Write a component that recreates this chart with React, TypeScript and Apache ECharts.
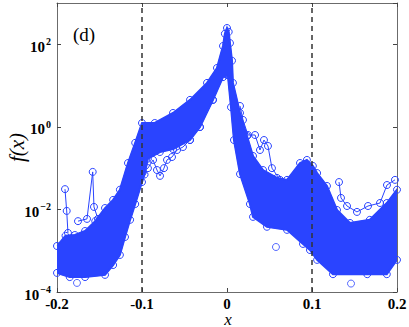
import React, { useEffect, useRef } from "react";
import * as echarts from "echarts";

// Dense band: upper boundary (x, f(x))
const upperX = [-0.2, -0.19, -0.179, -0.167, -0.155, -0.1435, -0.134, -0.126, -0.1165, -0.108, -0.1, -0.085, -0.0635, -0.0435, -0.0235, -0.0118, -0.0047, -0.0025, 0, 0.002, 0.0035, 0.0059, 0.007, 0.0153, 0.0235, 0.0306, 0.0424, 0.0588, 0.0706, 0.0859, 0.094, 0.101, 0.106, 0.1176, 0.1294, 0.1447, 0.168, 0.188, 0.2];
const upperV = [0.0013, 0.0023, 0.0024, 0.003, 0.0052, 0.0108, 0.017, 0.03, 0.133, 0.41, 1.24, 1.24, 2.17, 4.5, 11.6, 26.7, 91, 180, 248, 200, 107, 40, 11.6, 2.17, 0.6, 0.197, 0.09, 0.058, 0.052, 0.133, 0.158, 0.113, 0.076, 0.037, 0.0097, 0.0047, 0.0056, 0.0143, 0.03];

// Dense band: lower boundary
const lowerX = [-0.2, -0.185, -0.167, -0.1435, -0.134, -0.126, -0.12, -0.114, -0.108, -0.1, -0.097, -0.093, -0.079, -0.0635, -0.0435, -0.0318, -0.0165, -0.0047, 0, 0.001, 0.0047, 0.0082, 0.0153, 0.027, 0.0306, 0.047, 0.0706, 0.0894, 0.0976, 0.106, 0.1247, 0.165, 0.188, 0.2];
const lowerV = [0.00029, 0.00023, 0.00023, 0.00026, 0.00045, 0.00079, 0.00215, 0.0056, 0.0135, 0.046, 0.07, 0.17, 0.246, 0.29, 0.48, 0.99, 4.5, 16, 18, 18, 3.0, 0.48, 0.072, 0.0135, 0.0066, 0.0038, 0.0032, 0.00146, 0.00104, 0.0006, 0.00027, 0.00027, 0.00027, 0.0006];

// Lower branch left of the peak
const branchX = [-0.0988, -0.093, -0.087, -0.0824, -0.0788, -0.0741, -0.0706, -0.0647, -0.0588, -0.0518, -0.0435, -0.0318, -0.0165];
const branchV = [0.081, 0.1, 0.158, 0.09, 0.065, 0.1, 0.158, 0.186, 0.275, 0.325, 0.48, 0.99, 4.5];

// Sparse points above the right shoulder
const sparseRX = [0.0153, 0.0188, 0.0247, 0.033, 0.0388, 0.0435, 0.0482, 0.0529, 0.0624];
const sparseRV = [3.2, 1.47, 0.635, 0.635, 0.275, 0.48, 0.344, 0.1, 0.052];

// Isolated spikes
const spikeAX = [-0.1906, -0.1886, -0.1871];
const spikeAV = [0.031, 0.0092, 0.0027];
const spikeBX = [-0.1753, -0.1647, -0.158, -0.1565, -0.1518];
const spikeBV = [0.0052, 0.0059, 0.081, 0.0115, 0.0059];
const spikeCX = [0.1318, 0.1341, 0.1412, 0.1529, 0.1659, 0.18, 0.1882, 0.1976];
const spikeCV = [0.046, 0.019, 0.0121, 0.0087, 0.0121, 0.0143, 0.039, 0.052];
const outlierX = [-0.1765, 0.0576, 0.1459];
const outlierV = [0.000166, 0.00123, 0.00016];

const xTicks = [-0.2, -0.1, 0, 0.1, 0.2];
const dashedAt = [-0.1, 0.1];

const BLUE = "#2a44ff";
const FONT = "Liberation Serif";

const zip = (xs: number[], vs: number[]) => xs.map((x, i) => [x, vs[i]]);

function circleSeries(data: number[][], z = 3) {
  return {
    type: "line",
    data,
    symbol: "circle",
    symbolSize: 7,
    showSymbol: true,
    z,
    itemStyle: { color: "rgba(255,255,255,0)", borderColor: BLUE, borderWidth: 1 },
    lineStyle: { color: BLUE, width: 1 },
    clip: true,
  };
}

export default function App() {
  const ref = useRef<HTMLDivElement>(null);
  useEffect(() => {
    if (!ref.current) return;
    const chart = echarts.init(ref.current, null, { renderer: "svg" });
    const axisLineStyle = { color: "#6b6b6b", width: 1 };
    const tickStyle = { color: "#444", width: 1 };
    const option: any = {
      animation: false,
      backgroundColor: "#fff",
      grid: { left: 57, right: 12, top: 3, bottom: 35, containLabel: false, outerBoundsMode: "none" },
      xAxis: [
        {
          type: "value",
          min: xTicks[0],
          max: xTicks[xTicks.length - 1],
          interval: 0.1,
          position: "bottom",
          axisLine: { onZero: false, lineStyle: axisLineStyle },
          axisTick: { inside: true, length: 4, lineStyle: tickStyle },
          splitLine: { show: false },
          axisLabel: {
            color: "#000",
            fontFamily: FONT,
            fontWeight: "bold",
            fontSize: 15,
            margin: 4,
            formatter: (v: number) => (Math.abs(v) < 1e-9 ? "0" : v.toFixed(1)),
          },
        },
        {
          type: "value",
          min: xTicks[0],
          max: xTicks[xTicks.length - 1],
          interval: 0.1,
          position: "top",
          axisLine: { onZero: false, lineStyle: axisLineStyle },
          axisTick: { inside: true, length: 4, lineStyle: tickStyle },
          axisLabel: { show: false },
          splitLine: { show: false },
        },
      ],
      yAxis: [
        {
          type: "log",
          logBase: 10,
          min: 1e-4,
          max: 1e3,
          interval: 2,
          axisLine: { onZero: false, lineStyle: axisLineStyle },
          axisTick: { inside: true, length: 4, lineStyle: tickStyle },
          splitLine: { show: false },
          axisLabel: {
            margin: 6,
            showMaxLabel: false,
            formatter: (v: number) => {
              const e = Math.round(Math.log10(v));
              if (e % 2 !== 0 || e > 2) return "";
              return `{b|10}{s|${e < 0 ? "\u2212" : ""}${Math.abs(e)}}`;
            },
            rich: {
              b: { fontFamily: FONT, fontWeight: "bold", fontSize: 15, color: "#000", lineHeight: 15, padding: [5, 0, 0, 0] },
              s: { fontFamily: FONT, fontWeight: "bold", fontSize: 10, color: "#000", lineHeight: 10, verticalAlign: "top", padding: [0, 0, 0, 1] },
            },
          },
          name: "f(x)",
          nameLocation: "middle",
          nameGap: 30,
          nameRotate: 90,
          nameMoveOverlap: false,
          nameTextStyle: { fontFamily: FONT, fontStyle: "italic", fontSize: 21, color: "#000" },
        },
        {
          type: "log",
          logBase: 10,
          min: 1e-4,
          max: 1e3,
          interval: 2,
          position: "right",
          axisLine: { onZero: false, lineStyle: axisLineStyle },
          axisTick: { inside: true, length: 4, lineStyle: tickStyle },
          axisLabel: { show: false },
          splitLine: { show: false },
        },
      ],
      graphic: [
        {
          type: "text",
          left: 73,
          top: 25,
          style: { text: "(d)", fontFamily: FONT, fontSize: 19, fill: "#000" },
        },
        {
          type: "text",
          x: 228,
          y: 319,
          style: {
            text: "x",
            fontFamily: FONT,
            fontStyle: "italic",
            fontSize: 17,
            fill: "#000",
            align: "center",
            verticalAlign: "middle",
          },
        },
      ],
      series: [
        {
          type: "custom",
          data: [[0, 1]],
          z: 2,
          clip: true,
          renderItem: (params: any, api: any) => {
            if (params.dataIndex !== 0) return null;
            const pts: number[][] = [];
            for (let i = 0; i < upperX.length; i++) pts.push(api.coord([upperX[i], upperV[i]]));
            for (let i = lowerX.length - 1; i >= 0; i--) pts.push(api.coord([lowerX[i], lowerV[i]]));
            return {
              type: "polygon",
              shape: { points: pts },
              style: { fill: BLUE, stroke: BLUE, lineWidth: 2 },
            };
          },
        },
        circleSeries(zip(upperX, upperV)),
        circleSeries(zip(lowerX, lowerV)),
        circleSeries(zip(branchX, branchV)),
        circleSeries(zip(sparseRX, sparseRV)),
        circleSeries(zip(spikeAX, spikeAV)),
        circleSeries(zip(spikeBX, spikeBV)),
        circleSeries(zip(spikeCX, spikeCV)),
        {
          type: "scatter",
          data: zip(outlierX, outlierV),
          symbol: "circle",
          symbolSize: 7,
          itemStyle: { color: "rgba(255,255,255,0)", borderColor: BLUE, borderWidth: 1 },
          z: 3,
        },
        {
          type: "line",
          data: [],
          z: 10,
          markLine: {
            silent: true,
            symbol: "none",
            label: { show: false },
            lineStyle: { color: "#333", width: 1.5, type: [5, 4] },
            data: dashedAt.map((x) => ({ xAxis: x })),
          },
        },
      ],
    };
    chart.setOption(option);
    return () => chart.dispose();
  }, []);
  return (
    <div
      ref={ref}
      style={{ position: "fixed", left: 0, top: 0, width: 409, height: 327, background: "#fff" }}
    />
  );
}
